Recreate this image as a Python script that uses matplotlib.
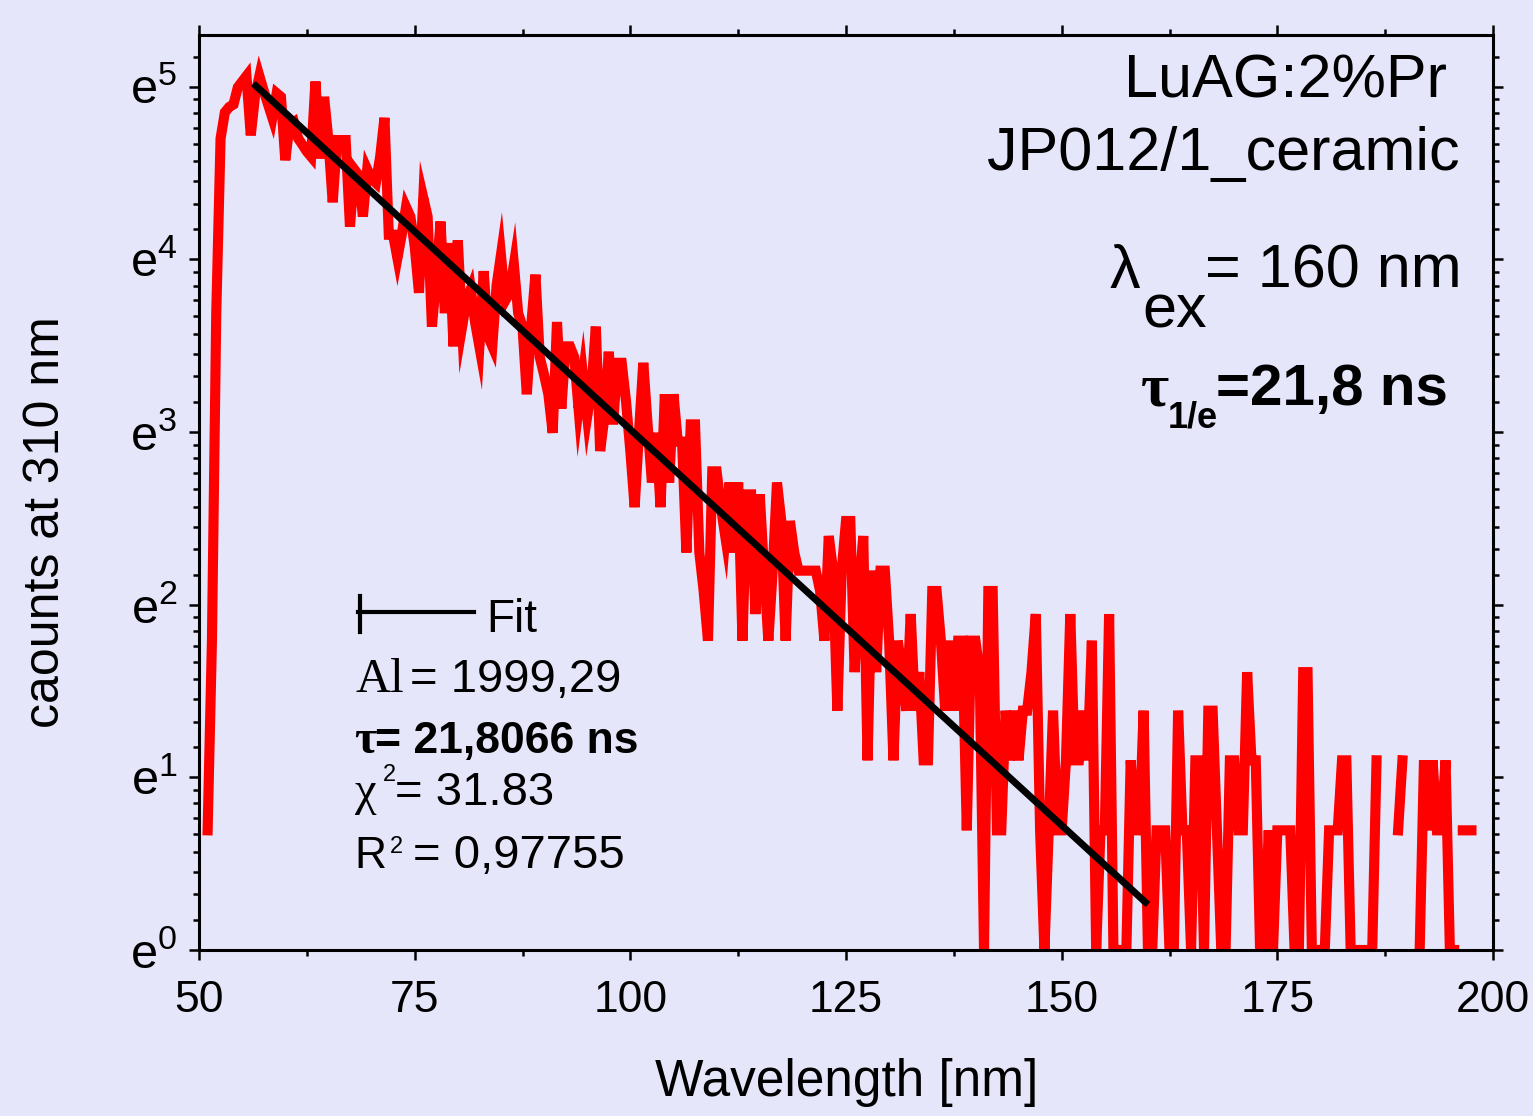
import numpy as np
import matplotlib
matplotlib.use('Agg')
import matplotlib.pyplot as plt
from matplotlib.ticker import FixedLocator, MultipleLocator, FuncFormatter, NullFormatter
from matplotlib.lines import Line2D

# ---------------- data ----------------
t_start = 51.0      # ns, first channel
t_step = 0.5        # ns per channel
counts = [
    2, 6, 40, 110, 128, 132, 134, 148, 153, 158,
    112, 141, 158, 145, 134, 124, 143, 140, 97, 119,
    121, 110, 106, 102, 99, 153, 98, 140, 109, 76,
    109, 109, 109, 66, 92, 89, 70, 92, 87, 85,
    99, 124, 63, 63, 55, 63, 74, 70, 59, 45,
    78, 70, 37, 49, 68, 40, 60, 33, 61, 37,
    43, 46, 38, 33, 51, 35, 33, 47, 56, 43,
    45, 53, 40, 37, 25, 37, 50, 31, 28, 25,
    20, 38, 23, 33, 33, 31, 23, 28, 22, 26,
    37, 18, 22, 32, 21, 30, 30, 24, 18, 13,
    20, 30, 21, 15, 20, 13, 25, 15, 25, 19,
    19, 10, 21, 21, 10, 8, 6, 16, 16, 13,
    11, 15, 10, 15, 6, 14, 14, 7, 14, 9,
    6, 9, 15, 12, 6, 12, 10, 9, 9, 9,
    9, 9, 8, 6, 11, 9, 4, 9, 12, 12,
    5, 8, 11, 3, 9, 5, 9, 9, 6, 3,
    6, 5, 4, 7, 4, 5, 3, 3, 8, 8,
    6, 4, 6, 4, 6, 6, 2, 6, 6, 5,
    1, 8, 8, 2, 2, 4, 3, 4, 3, 4,
    4, 5, 7, 2, 1, 2, 4, 2, 2, 3,
    7, 3, 3, 4, 3, 6, 1, 2, 2, 7,
    1, 1, 1, 1, 3, 2, 2, 4, 1, 1,
    2, 2, 2, 1, 1, 4, 2, 2, 1, 3,
    3, 1, 4, 4, 2, 1, 1, 3, 3, 2,
    2, 5, 3, 3, 1, 1, 2, 1, 2, 2,
    2, 2, 1, 1, 5, 5, 1, 1, 1, 1,
    2, 2, 2, 3, 3, 1, 1, 1, 1, 1,
    1, 3, 0, 0, 0, 0, 2, 3, 0, 0,
    0, 1, 3, 2, 3, 2, 2, 3, 1, 1,
    0, 2, 2, 2,
]
fit_A1 = 1999.29
fit_tau = 21.8066
fit_t_range = (56.3, 160.0)

x_major = [50, 75, 100, 125, 150, 175, 200]
y_powers = [0, 1, 2, 3, 4, 5]

# ---------------- style ----------------
bg = '#e6e6fa'
red = '#ff0000'
plt.rcParams['font.family'] = ['Liberation Sans', 'DejaVu Sans']
plt.rcParams['mathtext.fontset'] = 'custom'
plt.rcParams['mathtext.rm'] = 'Liberation Sans'
plt.rcParams['mathtext.it'] = 'Liberation Sans:italic'

W, H = 1533, 1116
fig = plt.figure(figsize=(W / 100, H / 100), dpi=100, facecolor=bg)
L, R, T, B = 199, 1493, 35, 950
ax = fig.add_axes([L / W, 1 - B / H, (R - L) / W, (B - T) / H])
ax.set_facecolor(bg)

t = t_start + t_step * np.arange(len(counts))
c = np.array(counts, dtype=float)
c[c <= 0] = np.nan
ax.plot(t, c, color=red, lw=7.3, solid_joinstyle='miter', solid_capstyle='projecting', zorder=2)

tf = np.linspace(fit_t_range[0], fit_t_range[1], 300)
ax.plot(tf, fit_A1 * np.exp(-tf / fit_tau), color='black', lw=5, solid_capstyle='butt', zorder=3)

ax.set_yscale('log', base=np.e)
ax.set_xlim(50, 200)
ax.set_ylim(1, np.e ** 5.3)

ax.xaxis.set_major_locator(FixedLocator(x_major))
ax.xaxis.set_minor_locator(MultipleLocator(12.5))
ax.yaxis.set_major_locator(FixedLocator([np.e ** p for p in y_powers]))
minor_y = [np.e ** n * (1 + k * (np.e - 1) / 9) for n in range(0, 6) for k in range(1, 9)]
minor_y = [v for v in minor_y if v < np.e ** 5.3]
ax.yaxis.set_minor_locator(FixedLocator(minor_y))
ax.yaxis.set_major_formatter(FuncFormatter(lambda v, pos: r'$\mathregular{e^{%d}}$' % int(round(np.log(v)))))
ax.yaxis.set_minor_formatter(NullFormatter())

ax.tick_params(which='both', direction='out', top=True, right=True, width=1.8, colors='black')
ax.tick_params(which='major', length=7.5)
ax.tick_params(which='minor', length=4)
ax.tick_params(axis='x', which='major', pad=14, labelsize=32)
ax.tick_params(axis='y', which='major', pad=8, labelsize=35)
for s in ax.spines.values():
    s.set_linewidth(2.2)

def P(x, y):
    return (x / W, 1 - y / H)

fig.text(*P(847, 1096), 'Wavelength [nm]', ha='center', va='baseline', fontsize=37)
fig.text(*P(46, 522), 'caounts at 310 nm', ha='center', va='center', rotation=90, fontsize=36)

# upper-right annotations
fig.text(*P(1447, 97), 'LuAG:2%Pr', ha='right', va='baseline', fontsize=44)
fig.text(*P(1460, 170), 'JP012/1_ceramic', ha='right', va='baseline', fontsize=44)
fig.text(*P(1110, 288), 'λ', ha='left', va='baseline', fontsize=44)
fig.text(*P(1142, 327), 'ex', ha='left', va='baseline', fontsize=44)
fig.text(*P(1205, 288), '= 160 nm', ha='left', va='baseline', fontsize=44)
fig.text(*P(1141, 405), 'τ', ha='left', va='baseline', fontsize=44, fontweight='bold',
         family=['Liberation Serif', 'DejaVu Serif'])
fig.text(*P(1168, 428), '1/e', ha='left', va='baseline', fontsize=26, fontweight='bold')
fig.text(*P(1216, 405), '=21,8 ns', ha='left', va='baseline', fontsize=42, fontweight='bold')

# fit legend / parameters block
fig.add_artist(Line2D([358 / W, 474 / W], [1 - 612 / H, 1 - 612 / H], color='black', lw=3))
fig.add_artist(Line2D([360 / W, 360 / W], [1 - 596 / H, 1 - 632 / H], color='black', lw=3))
fig.text(*P(486, 632), 'Fit', ha='left', va='baseline', fontsize=33)
fig.text(*P(355, 692), 'Al', ha='left', va='baseline', fontsize=35, family=['Liberation Serif', 'DejaVu Serif'])
fig.text(*P(410, 692), '= 1999,29', ha='left', va='baseline', fontsize=34)
fig.text(*P(354, 753), 'τ', ha='left', va='baseline', fontsize=35, fontweight='bold',
         family=['Liberation Serif', 'DejaVu Serif'])
fig.text(*P(375, 753), '= 21,8066 ns', ha='left', va='baseline', fontsize=32, fontweight='bold')
fig.text(*P(355, 805), 'χ', ha='left', va='baseline', fontsize=35, family=['Liberation Serif', 'DejaVu Serif'])
fig.text(*P(383, 781), '2', ha='left', va='baseline', fontsize=17)
fig.text(*P(395, 805), '= 31.83', ha='left', va='baseline', fontsize=34)
fig.text(*P(354, 868), 'R', ha='left', va='baseline', fontsize=32)
fig.text(*P(390, 853), '2', ha='left', va='baseline', fontsize=17)
fig.text(*P(413, 868), '= 0,97755', ha='left', va='baseline', fontsize=34)

fig.savefig('out.png', dpi=100, facecolor=bg)
